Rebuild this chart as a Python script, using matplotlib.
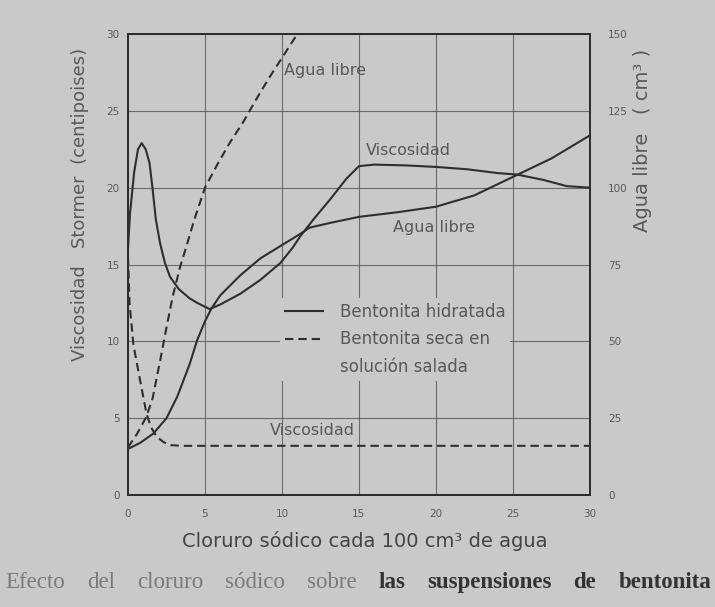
import matplotlib.pyplot as plt
from matplotlib.lines import Line2D

BG = '#c9c9c9'
INK = '#2e2e2e'
GREY = '#585858'

# cloruro sodico (g / 100 cm3) en x
x_ticks = [0, 5, 10, 15, 20, 25, 30]
visc_ticks = [0, 5, 10, 15, 20, 25, 30]
agua_ticks = [0, 25, 50, 75, 100, 125, 150]

# viscosidad Stormer (cP), bentonita hidratada
x_visc_hid = [0, 0.13, 0.4, 0.65, 0.89, 1.15, 1.4, 1.6, 1.8, 2.08, 2.4, 2.73, 3.3,
              4.0, 4.5, 5.3, 6.0, 7.3, 8.6, 9.9, 10.7, 11.2, 12.1, 13.1, 14.2, 15.0,
              16, 18, 20, 22, 24, 25.3, 27, 28.5, 30]
visc_hid = [16.0, 18.3, 21.0, 22.5, 22.9, 22.5, 21.6, 19.9, 18.0, 16.4, 15.1, 14.2, 13.4,
            12.8, 12.5, 12.1, 12.4, 13.1, 14.0, 15.1, 16.1, 16.85, 18.0, 19.2, 20.6, 21.4,
            21.5, 21.45, 21.35, 21.2, 20.95, 20.85, 20.5, 20.1, 20.0]

# viscosidad, bentonita seca en solucion salada
x_visc_seca = [0, 0.1, 0.35, 0.78, 1.2, 1.5, 1.86, 2.3, 2.7, 3.5, 5, 10, 15, 20, 25, 30]
visc_seca = [15.5, 12.5, 9.8, 7.5, 5.3, 4.4, 3.8, 3.45, 3.25, 3.2, 3.2, 3.2, 3.2, 3.2, 3.2, 3.2]

# agua libre (cm3), bentonita hidratada
x_agua_hid = [0, 0.8, 1.65, 2.5, 3.2, 4.0, 4.5, 5.0, 5.4, 6.0, 7.3, 8.6, 9.9, 11.2,
              11.8, 13.1, 15, 17.5, 20, 22.5, 25, 27.5, 30]
agua_hid = [15, 17, 20, 25, 32, 42.5, 50.5, 56.5, 60.5, 65, 71.5, 77, 81, 85,
            87, 88.5, 90.5, 92, 93.8, 97.5, 103.5, 109.5, 117]

# agua libre, bentonita seca en solucion salada
x_agua_seca = [0, 0.6, 1.2, 1.6, 2.1, 2.5, 2.9, 3.4, 3.8, 4.3, 5.0, 5.8, 6.6, 7.5,
               8.3, 9.2, 10.1, 11.0]
agua_seca = [15.5, 20, 25.5, 31.5, 44, 54.5, 64.5, 74.5, 81, 89.5, 100, 107.5, 114.5, 121.5,
             128.5, 136, 143, 150]

fig = plt.figure(figsize=(7.15, 6.07), dpi=100, facecolor=BG)
ax = fig.add_axes([0.179, 0.1845, 0.646, 0.7595], facecolor=BG)
ax2 = ax.twinx()

dash = (4, 2.4)
ax.plot(x_visc_hid, visc_hid, color=INK, lw=1.5, zorder=3)
ax.plot(x_visc_seca, visc_seca, color=INK, lw=1.5, dashes=dash, zorder=3)
ax2.plot(x_agua_hid, agua_hid, color=INK, lw=1.5)
ax2.plot(x_agua_seca, agua_seca, color=INK, lw=1.5, dashes=dash)

ax.set_xlim(0, 30)
ax.set_ylim(0, 30)
ax2.set_ylim(0, 150)
ax.set_xticks(x_ticks)
ax.set_yticks(visc_ticks)
ax2.set_yticks(agua_ticks)
ax.grid(True, color='#4a4a4a', lw=0.8, alpha=0.75)

for a in (ax, ax2):
    for s in a.spines.values():
        s.set_color(INK)
        s.set_linewidth(1.4)
ax.tick_params(axis='both', length=0, labelsize=7.5, labelcolor=GREY)
ax.tick_params(axis='y', pad=6)
ax.tick_params(axis='x', pad=10)
ax2.tick_params(axis='y', length=0, labelsize=7.5, labelcolor=GREY, pad=13)

lbl = dict(color=GREY, fontsize=11.5)
ax.text(12.8, 27.6, 'Agua libre', ha='center', va='center', **lbl)
ax.text(18.2, 22.4, 'Viscosidad', ha='center', va='center', **lbl)
ax.text(19.9, 17.4, 'Agua libre', ha='center', va='center', **lbl)
ax.text(12.0, 4.2, 'Viscosidad', ha='center', va='center', **lbl)

handles = [Line2D([], [], color=INK, lw=1.5),
           Line2D([], [], color=INK, lw=1.5, dashes=dash),
           Line2D([], [], linestyle='none')]
leg = ax2.legend(handles, ['Bentonita hidratada', 'Bentonita seca en', 'solución salada'],
                 loc='upper left', bbox_to_anchor=(0.31, 0.445), fontsize=12,
                 handlelength=2.3, handletextpad=1.0, labelspacing=0.55,
                 facecolor=BG, edgecolor='none', framealpha=1, borderpad=0.3)
for t in leg.get_texts():
    t.set_color(GREY)

ax.text(-0.104, 0.63, 'Viscosidad   Stormer  (centipoises)', transform=ax.transAxes,
        rotation=90, ha='center', va='center', color=GREY, fontsize=13)
ax.text(1.115, 0.77, 'Agua libre   ( cm³ )', transform=ax.transAxes,
        rotation=90, ha='center', va='center', color=GREY, fontsize=14)
fig.text(0.51, 0.109, 'Cloruro sódico cada 100 cm³ de agua', ha='center', va='center',
         color='#444444', fontsize=14)

# pie de figura justificado a todo el ancho
caption = 'Efecto del cloruro sódico sobre las suspensiones de bentonita'
words = caption.split()
W = 715
fig.canvas.draw()
r = fig.canvas.get_renderer()
texts = []
for i, w in enumerate(words):
    col = '#7a7a7a' if i < 5 else '#333333'
    texts.append(fig.text(0, 0.041, w, ha='left', va='center', color=col,
                          fontsize=16.5, family='Liberation Serif',
                          weight='normal' if i < 5 else 'bold'))
widths = [t.get_window_extent(r).width for t in texts]
gap = (711 - 5 - sum(widths)) / (len(words) - 1)
pos = 5
for t, w in zip(texts, widths):
    t.set_x(pos / W)
    pos += w + gap

fig.savefig('out.png', dpi=100, facecolor=BG)
